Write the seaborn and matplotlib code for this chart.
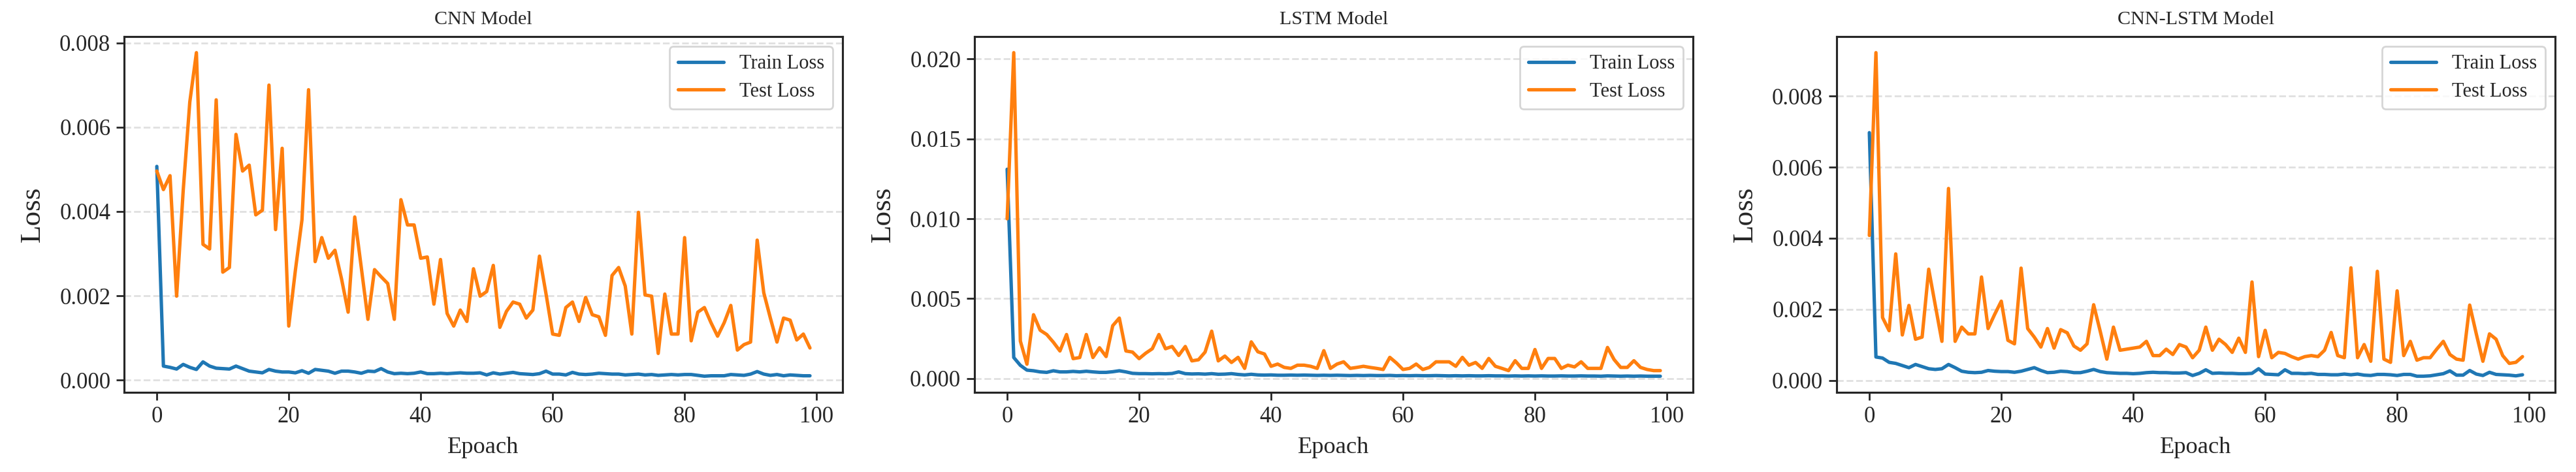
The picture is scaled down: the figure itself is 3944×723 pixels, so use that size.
import numpy as np
import pandas as pd
import matplotlib
matplotlib.use("Agg")
import matplotlib.pyplot as plt
import seaborn as sns
from matplotlib.ticker import FormatStrFormatter, MultipleLocator

# ---------------- data (loss values in units of 1e-3) ----------------
epochs = list(range(100))

cnn_train_e3 = [5.07, 0.33, 0.30, 0.26, 0.37, 0.30, 0.25, 0.43, 0.33, 0.28,
                0.27, 0.26, 0.33, 0.27, 0.21, 0.19, 0.17, 0.25, 0.21, 0.19,
                0.19, 0.17, 0.22, 0.16, 0.25, 0.23, 0.21, 0.16, 0.21, 0.21,
                0.19, 0.16, 0.21, 0.20, 0.27, 0.19, 0.15, 0.16, 0.15, 0.16,
                0.19, 0.15, 0.15, 0.16, 0.15, 0.16, 0.17, 0.16, 0.16, 0.17,
                0.12, 0.17, 0.14, 0.16, 0.18, 0.15, 0.14, 0.13, 0.15, 0.21,
                0.14, 0.14, 0.12, 0.18, 0.14, 0.13, 0.14, 0.16, 0.15, 0.14,
                0.14, 0.12, 0.13, 0.14, 0.12, 0.13, 0.11, 0.12, 0.13, 0.12,
                0.13, 0.13, 0.11, 0.09, 0.10, 0.10, 0.10, 0.13, 0.12, 0.11,
                0.14, 0.20, 0.14, 0.11, 0.13, 0.10, 0.12, 0.11, 0.10, 0.10]
cnn_test_e3 = [4.96, 4.52, 4.85, 1.99, 4.50, 6.60, 7.77, 3.22, 3.11, 6.65,
               2.56, 2.67, 5.83, 4.96, 5.10, 3.92, 4.03, 7.00, 3.57, 5.50,
               1.28, 2.60, 3.80, 6.89, 2.81, 3.38, 2.89, 3.08, 2.40, 1.61,
               3.87, 2.66, 1.44, 2.62, 2.45, 2.29, 1.44, 4.28, 3.68, 3.68,
               2.89, 2.92, 1.80, 2.86, 1.58, 1.28, 1.66, 1.39, 2.64, 1.99,
               2.10, 2.72, 1.25, 1.63, 1.85, 1.80, 1.47, 1.66, 2.94, 2.04,
               1.09, 1.06, 1.72, 1.85, 1.39, 1.96, 1.55, 1.50, 1.06, 2.48,
               2.67, 2.23, 1.09, 3.98, 2.02, 1.99, 0.63, 2.04, 1.09, 1.09,
               3.38, 0.93, 1.61, 1.72, 1.36, 1.04, 1.36, 1.77, 0.71, 0.84,
               0.90, 3.32, 2.07, 1.47, 0.90, 1.47, 1.42, 0.95, 1.09, 0.76]

lstm_train_e3 = [13.1, 1.31, 0.82, 0.52, 0.48, 0.41, 0.38, 0.48, 0.41, 0.41,
                 0.44, 0.41, 0.45, 0.41, 0.38, 0.38, 0.42, 0.48, 0.41, 0.32,
                 0.30, 0.30, 0.29, 0.30, 0.29, 0.31, 0.41, 0.30, 0.28, 0.29,
                 0.27, 0.30, 0.26, 0.27, 0.30, 0.25, 0.22, 0.26, 0.22, 0.21,
                 0.22, 0.20, 0.20, 0.21, 0.20, 0.21, 0.20, 0.19, 0.20, 0.19,
                 0.20, 0.19, 0.18, 0.19, 0.18, 0.19, 0.18, 0.18, 0.19, 0.17,
                 0.18, 0.17, 0.18, 0.17, 0.17, 0.18, 0.17, 0.16, 0.17, 0.16,
                 0.17, 0.16, 0.16, 0.17, 0.16, 0.16, 0.15, 0.16, 0.15, 0.16,
                 0.15, 0.16, 0.15, 0.15, 0.16, 0.15, 0.15, 0.16, 0.15, 0.15,
                 0.14, 0.16, 0.15, 0.14, 0.15, 0.14, 0.15, 0.14, 0.14, 0.14]
lstm_test_e3 = [10.0, 20.4, 2.34, 0.89, 3.99, 3.02, 2.75, 2.27, 1.72, 2.75,
                1.24, 1.31, 2.75, 1.31, 1.92, 1.37, 3.30, 3.78, 1.72, 1.65,
                1.24, 1.58, 1.86, 2.75, 1.86, 2.00, 1.44, 2.00, 1.10, 1.17,
                1.65, 2.96, 1.10, 1.40, 1.00, 1.32, 0.63, 2.29, 1.67, 1.53,
                0.76, 0.90, 0.69, 0.63, 0.83, 0.83, 0.76, 0.63, 1.74, 0.63,
                0.90, 1.04, 0.63, 0.69, 0.76, 0.69, 0.63, 0.56, 1.32, 0.97,
                0.56, 0.63, 0.90, 0.56, 0.69, 1.04, 1.04, 1.04, 0.76, 1.32,
                0.83, 1.00, 0.63, 1.25, 0.76, 0.63, 0.49, 1.11, 0.63, 0.63,
                1.81, 0.63, 1.25, 1.25, 0.63, 0.83, 0.72, 1.04, 0.63, 0.63,
                0.63, 1.94, 1.18, 0.69, 0.69, 1.11, 0.69, 0.56, 0.49, 0.49]

cnnlstm_train_e3 = [6.97, 0.66, 0.63, 0.51, 0.48, 0.42, 0.36, 0.45, 0.39, 0.33,
                    0.31, 0.33, 0.45, 0.36, 0.26, 0.23, 0.22, 0.23, 0.28, 0.26,
                    0.25, 0.25, 0.23, 0.26, 0.31, 0.36, 0.28, 0.22, 0.23, 0.26,
                    0.25, 0.22, 0.22, 0.26, 0.31, 0.25, 0.22, 0.21, 0.20, 0.20,
                    0.19, 0.20, 0.22, 0.23, 0.22, 0.22, 0.21, 0.21, 0.22, 0.14,
                    0.20, 0.30, 0.20, 0.21, 0.20, 0.20, 0.19, 0.19, 0.20, 0.33,
                    0.18, 0.17, 0.16, 0.30, 0.20, 0.20, 0.19, 0.20, 0.17, 0.17,
                    0.16, 0.16, 0.18, 0.16, 0.18, 0.15, 0.14, 0.17, 0.17, 0.16,
                    0.14, 0.17, 0.17, 0.12, 0.12, 0.13, 0.16, 0.19, 0.27, 0.15,
                    0.15, 0.28, 0.18, 0.14, 0.23, 0.17, 0.16, 0.15, 0.13, 0.16]
cnnlstm_test_e3 = [4.08, 9.22, 1.77, 1.40, 3.56, 1.28, 2.11, 1.16, 1.22, 3.13,
                   2.11, 1.10, 5.40, 1.10, 1.50, 1.31, 1.31, 2.91, 1.46, 1.86,
                   2.23, 1.13, 1.03, 3.16, 1.46, 1.22, 0.94, 1.46, 0.91, 1.43,
                   1.34, 0.97, 0.85, 1.03, 2.13, 1.38, 0.60, 1.50, 0.85, 0.88,
                   0.91, 0.94, 1.10, 0.70, 0.70, 0.88, 0.73, 1.01, 0.94, 0.64,
                   0.85, 1.50, 0.85, 1.16, 1.01, 0.79, 1.19, 0.79, 2.77, 0.67,
                   1.41, 0.64, 0.79, 0.76, 0.67, 0.60, 0.67, 0.70, 0.67, 0.85,
                   1.35, 0.70, 0.64, 3.17, 0.64, 1.01, 0.54, 3.07, 0.60, 0.51,
                   2.52, 0.70, 1.10, 0.57, 0.64, 0.64, 0.88, 1.10, 0.73, 0.60,
                   0.57, 2.12, 1.31, 0.54, 1.31, 1.16, 0.70, 0.48, 0.51, 0.67]

models = ["CNN Model", "LSTM Model", "CNN-LSTM Model"]
series_names = ["Train Loss", "Test Loss"]
ytick_steps = [0.002, 0.005, 0.002]

train_sets = [cnn_train_e3, lstm_train_e3, cnnlstm_train_e3]
test_sets = [cnn_test_e3, lstm_test_e3, cnnlstm_test_e3]

# ---------------- style ----------------
sns.set_theme(style="ticks")
plt.rcParams['font.family'] = ['Liberation Serif', 'DejaVu Serif']
plt.rcParams['axes.edgecolor'] = '#262626'
plt.rcParams['axes.linewidth'] = 0.9
plt.rcParams['xtick.color'] = '#262626'
plt.rcParams['ytick.color'] = '#262626'

palette = {"Train Loss": "#1f77b4", "Test Loss": "#ff7f0e"}

fig = plt.figure(figsize=(15.776, 2.892), dpi=250)
lefts = [0.0482, 0.3783, 0.7130]
bottom, width, height = 0.1687, 0.2789, 0.754

for i, model in enumerate(models):
    ax = fig.add_axes([lefts[i], bottom, width, height])
    df = pd.DataFrame({
        "Epoch": epochs * 2,
        "Loss": np.array(train_sets[i] + test_sets[i]) * 1e-3,
        "Series": [series_names[0]] * 100 + [series_names[1]] * 100,
    })
    sns.lineplot(data=df, x="Epoch", y="Loss", hue="Series", palette=palette,
                 linewidth=1.5, ax=ax)
    ax.set_title(model, fontsize=8.7, pad=5.5)
    ax.set_xlabel("Epoach", fontsize=10.5, labelpad=4)
    ax.set_ylabel("Loss", fontsize=13, labelpad=6)
    ax.yaxis.set_major_locator(MultipleLocator(ytick_steps[i]))
    ax.yaxis.set_major_formatter(FormatStrFormatter('%.3f'))
    ax.xaxis.set_major_locator(MultipleLocator(20))
    ax.tick_params(axis='both', labelsize=10, length=3.5, width=0.8, pad=2.5)
    ax.grid(axis='y', linestyle='--', color='#d9d9d9', linewidth=0.8, alpha=0.8)
    ax.grid(axis='x', visible=False)
    for s in ax.spines.values():
        s.set_visible(True)
    leg = ax.legend(loc='upper right', fontsize=8.8, frameon=True,
                    fancybox=True, framealpha=0.8, edgecolor='#cccccc',
                    labelspacing=0.45, handlelength=2.3)
    leg.get_frame().set_linewidth(0.8)
    ax.set_xlim(-4.95, 103.95)

fig.savefig("out.png", dpi=250)
